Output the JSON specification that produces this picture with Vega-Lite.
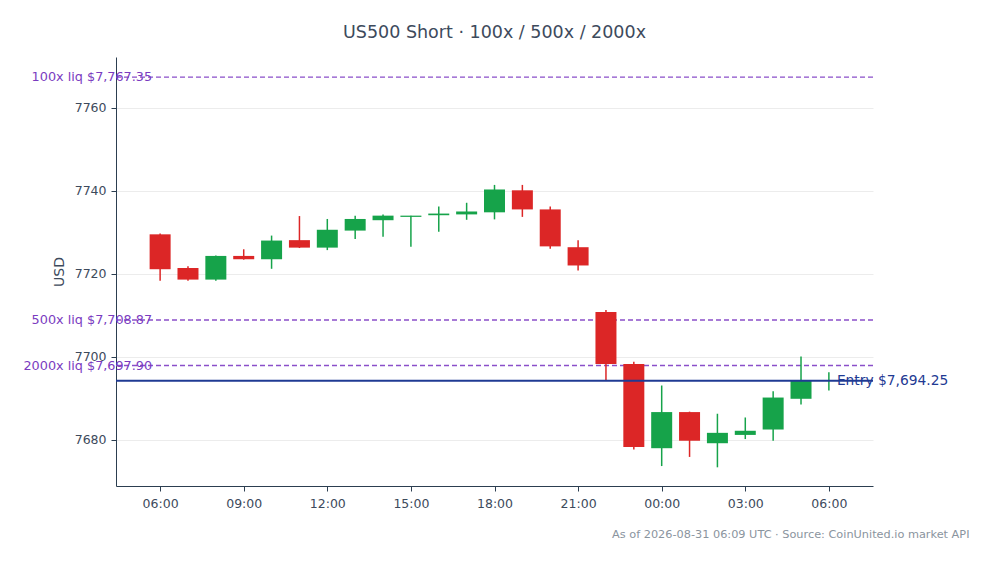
{
  "$schema": "https://vega.github.io/schema/vega-lite/v6.json",
  "width": 757,
  "height": 429,
  "autosize": {"type": "none"},
  "padding": {"left": 116, "top": 57, "right": 120, "bottom": 78},
  "background": "white",
  "config": {
    "font": "DejaVu Sans",
    "view": {"stroke": null},
    "axis": {
      "labelFont": "DejaVu Sans",
      "titleFont": "DejaVu Sans",
      "labelFontSize": 12.5,
      "labelColor": "#3d4a5c",
      "titleColor": "#3d4a5c",
      "domainColor": "#2c3e50",
      "tickColor": "#2c3e50",
      "gridColor": "#ececec"
    }
  },
  "title": {
    "text": "US500 Short · 100x / 500x / 2000x",
    "fontSize": 17.5,
    "fontWeight": "normal",
    "color": "#3d4a5c",
    "offset": 16
  },
  "datasets": {
    "candles": [
      {"t": "2026-08-30T06:00:00Z", "open": 7729.5, "high": 7729.7, "low": 7718.3, "close": 7721.1},
      {"t": "2026-08-30T07:00:00Z", "open": 7721.4, "high": 7721.8, "low": 7718.3, "close": 7718.6},
      {"t": "2026-08-30T08:00:00Z", "open": 7718.6, "high": 7724.4, "low": 7718.3, "close": 7724.3},
      {"t": "2026-08-30T09:00:00Z", "open": 7724.3, "high": 7725.9, "low": 7723.4, "close": 7723.5},
      {"t": "2026-08-30T10:00:00Z", "open": 7723.5, "high": 7729.2, "low": 7721.2, "close": 7728.0},
      {"t": "2026-08-30T11:00:00Z", "open": 7728.1, "high": 7733.9, "low": 7726.2, "close": 7726.3},
      {"t": "2026-08-30T12:00:00Z", "open": 7726.3, "high": 7733.2, "low": 7725.7, "close": 7730.6},
      {"t": "2026-08-30T13:00:00Z", "open": 7730.4, "high": 7734.0, "low": 7728.4, "close": 7733.2},
      {"t": "2026-08-30T14:00:00Z", "open": 7732.9, "high": 7734.3, "low": 7728.9, "close": 7734.0},
      {"t": "2026-08-30T15:00:00Z", "open": 7733.7, "high": 7734.0, "low": 7726.5, "close": 7734.0},
      {"t": "2026-08-30T16:00:00Z", "open": 7734.1, "high": 7736.2, "low": 7730.1, "close": 7734.5},
      {"t": "2026-08-30T17:00:00Z", "open": 7734.3, "high": 7737.1, "low": 7733.0, "close": 7735.0},
      {"t": "2026-08-30T18:00:00Z", "open": 7734.8, "high": 7741.4, "low": 7733.1, "close": 7740.3},
      {"t": "2026-08-30T19:00:00Z", "open": 7740.1, "high": 7741.4, "low": 7733.7, "close": 7735.5},
      {"t": "2026-08-30T20:00:00Z", "open": 7735.5, "high": 7736.2, "low": 7726.0, "close": 7726.6},
      {"t": "2026-08-30T21:00:00Z", "open": 7726.4, "high": 7728.1, "low": 7720.8, "close": 7722.0},
      {"t": "2026-08-30T22:00:00Z", "open": 7710.8, "high": 7711.3, "low": 7694.3, "close": 7698.3},
      {"t": "2026-08-30T23:00:00Z", "open": 7698.3, "high": 7698.8, "low": 7677.7, "close": 7678.3},
      {"t": "2026-08-31T00:00:00Z", "open": 7678.0, "high": 7693.1, "low": 7673.7, "close": 7686.7},
      {"t": "2026-08-31T01:00:00Z", "open": 7686.7, "high": 7686.8, "low": 7675.9, "close": 7679.8},
      {"t": "2026-08-31T02:00:00Z", "open": 7679.2, "high": 7686.3, "low": 7673.4, "close": 7681.7},
      {"t": "2026-08-31T03:00:00Z", "open": 7681.2, "high": 7685.4, "low": 7680.2, "close": 7682.2},
      {"t": "2026-08-31T04:00:00Z", "open": 7682.5, "high": 7691.7, "low": 7679.8, "close": 7690.2},
      {"t": "2026-08-31T05:00:00Z", "open": 7689.9, "high": 7700.1, "low": 7688.5, "close": 7694.3},
      {"t": "2026-08-31T06:00:00Z", "open": 7694.2, "high": 7696.3, "low": 7691.9, "close": 7694.4}
    ],
    "liq": [
      {"label": "100x liq $7,767.35", "price": 7767.35},
      {"label": "500x liq $7,708.87", "price": 7708.87},
      {"label": "2000x liq $7,697.90", "price": 7697.90}
    ],
    "entry": [
      {"label": "Entry $7,694.25", "price": 7694.25}
    ]
  },
  "encoding": {
    "x": {
      "field": "t",
      "type": "temporal",
      "scale": {"type": "utc", "domain": [1788063900000, 1788161700000], "padding": 0},
      "axis": {
        "format": "%H:%M",
        "tickCount": 9,
        "grid": false,
        "labelPadding": 6,
        "title": "As of 2026-08-31 06:09 UTC · Source: CoinUnited.io market API",
        "titleFontSize": 11.3,
        "titleFontWeight": "normal",
        "titleColor": "#8a949e",
        "titleAlign": "right",
        "titleBaseline": "middle",
        "titleX": 853,
        "titleY": 48
      }
    },
    "y": {
      "type": "quantitative",
      "scale": {"domain": [7668.9, 7772.2], "nice": false, "zero": false},
      "axis": {
        "values": [7680, 7700, 7720, 7740, 7760],
        "format": "d",
        "labelPadding": 5,
        "title": "USD",
        "titleFontSize": 14,
        "titleFontWeight": "normal",
        "titlePadding": 8,
        "grid": true
      }
    }
  },
  "layer": [
    {
      "data": {"name": "liq"},
      "mark": {"type": "rule", "color": "#8a4fc9", "strokeDash": [5, 3], "strokeWidth": 1.4},
      "encoding": {
        "x": null,
        "y": {"field": "price", "type": "quantitative"}
      }
    },
    {
      "data": {"name": "candles"},
      "transform": [{"filter": "datum.close >= datum.open"}],
      "layer": [
        {
          "mark": {"type": "rule", "strokeWidth": 1.5, "color": "#16a34a"},
          "encoding": {"y": {"field": "low", "type": "quantitative"}, "y2": {"field": "high"}}
        },
        {
          "mark": {"type": "bar", "size": 21, "color": "#16a34a"},
          "encoding": {"y": {"field": "open", "type": "quantitative"}, "y2": {"field": "close"}}
        }
      ]
    },
    {
      "data": {"name": "candles"},
      "transform": [{"filter": "datum.close < datum.open"}],
      "layer": [
        {
          "mark": {"type": "rule", "strokeWidth": 1.5, "color": "#dc2626"},
          "encoding": {"y": {"field": "low", "type": "quantitative"}, "y2": {"field": "high"}}
        },
        {
          "mark": {"type": "bar", "size": 21, "color": "#dc2626"},
          "encoding": {"y": {"field": "open", "type": "quantitative"}, "y2": {"field": "close"}}
        }
      ]
    },
    {
      "data": {"name": "entry"},
      "mark": {"type": "rule", "color": "#1f3a93", "strokeWidth": 2},
      "encoding": {
        "x": null,
        "y": {"field": "price", "type": "quantitative"}
      }
    },
    {
      "data": {"name": "candles"},
      "transform": [{"filter": "time(datum.t) == 1788069600000"}],
      "layer": [
        {
          "mark": {"type": "text", "align": "right", "baseline": "middle", "dx": -8, "fontSize": 12.8, "color": "#7a3bbf"},
          "encoding": {"y": {"datum": 7767.35}, "text": {"value": "100x liq $7,767.35"}}
        },
        {
          "mark": {"type": "text", "align": "right", "baseline": "middle", "dx": -8, "fontSize": 12.8, "color": "#7a3bbf"},
          "encoding": {"y": {"datum": 7708.87}, "text": {"value": "500x liq $7,708.87"}}
        },
        {
          "mark": {"type": "text", "align": "right", "baseline": "middle", "dx": -8, "fontSize": 12.8, "color": "#7a3bbf"},
          "encoding": {"y": {"datum": 7697.90}, "text": {"value": "2000x liq $7,697.90"}}
        }
      ]
    },
    {
      "data": {"name": "candles"},
      "transform": [{"filter": "time(datum.t) == 1788156000000"}],
      "mark": {"type": "text", "align": "left", "baseline": "middle", "dx": 8, "fontSize": 13.8, "color": "#1f3a93"},
      "encoding": {"y": {"datum": 7694.25}, "text": {"value": "Entry $7,694.25"}}
    }
  ]
}
